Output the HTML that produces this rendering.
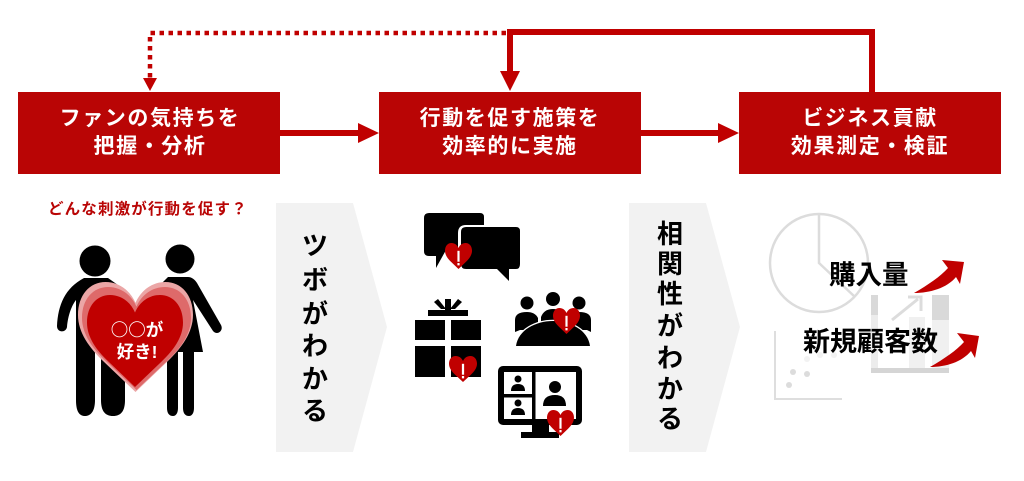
<!DOCTYPE html>
<html lang="ja"><head><meta charset="utf-8"><style>
html,body{margin:0;padding:0;background:#fff}
svg{display:block}
text{font-family:"Liberation Sans","Noto Sans CJK JP",sans-serif;font-weight:700}
.j{font-family:"Noto Sans CJK JP",sans-serif}
</style></head><body>
<svg width="1024" height="481" viewBox="0 0 1024 481" xmlns="http://www.w3.org/2000/svg">
<defs>
<path id="h" d="M50 19C45 7 35 0 24 0C10 0 0 12 0 30C0 46 10 60 22 72L50 100L78 72C90 60 100 46 100 30C100 12 90 0 76 0C65 0 55 7 50 19Z"/>
<g id="sh"><use href="#h" fill="#c00000"/><rect x="46" y="30" width="8" height="42" fill="#fff"/><rect x="46" y="77" width="8" height="9" fill="#fff"/></g>
</defs>
<rect width="1024" height="481" fill="#fff"/>
<!-- boxes -->
<g fill="#b90505"><rect x="18" y="92" width="262" height="82"/><rect x="379" y="92" width="262" height="82"/><rect x="739" y="92" width="262" height="82"/></g>
<g fill="#fff" font-size="21" text-anchor="middle" letter-spacing="1.6">
<text x="150" y="125">ファンの気持ちを</text><text x="150" y="153">把握・分析</text>
<text x="510" y="125">行動を促す施策を</text><text x="510" y="153">効率的に実施</text>
<text x="870" y="125">ビジネス貢献</text><text x="870" y="153">効果測定・検証</text>
</g>
<!-- connectors -->
<g fill="none" stroke="#c00000">
<path d="M280 133H360M641 133H720" stroke-width="6"/>
<path d="M872 92V32H510V72" stroke-width="6"/>
<path d="M506 33H150V78" stroke-width="4.5" stroke-dasharray="4.5 4.5"/>
</g>
<g fill="#c00000">
<path d="M358 123L379 133L358 143ZM718 123L739 133L718 143Z"/>
<path d="M500 71H520L510 91Z"/>
<path d="M143 78H157L150 91Z"/>
</g>
<!-- chevrons -->
<g fill="#f2f2f2"><path d="M276 203H353L387 327L353 452H276Z"/><path d="M629 203H706L740 327L706 452H629Z"/></g>
<g font-size="26" text-anchor="middle" fill="#000">
<text x="315" y="255">ツ</text><text x="315" y="289">ボ</text><text x="315" y="323">が</text><text x="315" y="355">わ</text><text x="315" y="388">か</text><text x="315" y="420">る</text>
<text x="670" y="243">相</text><text x="670" y="273">関</text><text x="670" y="303">性</text><text x="670" y="335">が</text><text x="670" y="367">わ</text><text x="670" y="398">か</text><text x="670" y="428">る</text>
</g>
<text x="48" y="214" font-size="15.5" fill="#b90505" letter-spacing="1.15">どんな刺激が行動を促す？</text>
<!-- people -->
<g fill="#000">
<circle cx="95" cy="261" r="15.5"/><circle cx="180" cy="259" r="14.5"/>
<path d="M84 278H108L125 290V400C125 411 121 416 113 416C105 416 101 411 101 400V340H95V400C95 411 91 416 85 416C79 416 76 411 76 400V300C72 305 68 315 67 327C66 333 57 333 57 326C58 305 65 288 84 278Z"/>
<path d="M168 277H188C192 277 195 280 197 283L221 325C224 331 217 336 213 331L193 300L203 352H194V408C194 413 192 416 189 416C185 416 183 413 183 408V352H178V408C178 413 176 416 173 416C169 416 167 413 167 408V352H160V285Z"/>
</g>
<!-- big heart -->
<use href="#h" transform="translate(78 282) scale(1.15 1.1)" fill="#eba6a6"/>
<use href="#h" transform="translate(82 287) scale(1.09 1.03)" fill="#de6a6a"/>
<use href="#h" transform="translate(87 295) scale(.96 .92)" fill="#c00000"/>
<g fill="#fff" font-size="17.5" text-anchor="middle"><text class="j" x="137" y="336">○○が</text><text x="137" y="358">好き!</text></g>
<!-- bubbles -->
<path d="M429 213H480Q484 213 484 217V250H446L436 268V256H429Q424 256 424 251V218Q424 213 429 213Z" fill="#000"/>
<path d="M466 225H516Q522 225 522 231V264Q522 271 516 271H497L509 281V268H466Q458 268 458 262V233Q458 225 466 225Z" fill="#fff"/>
<path d="M466 227H516Q520 227 520 231V264Q520 269 516 269H509V281L497 269H466Q461 269 461 264V232Q461 227 466 227Z" fill="#000"/>
<use href="#sh" transform="translate(445 243) scale(.27 .26)"/>
<!-- gift -->
<g fill="#000"><rect x="428" y="310" width="40" height="6"/><rect x="445" y="299" width="6" height="11"/><path d="M434 302L438 299L446 309H441ZM462 302L458 299L450 309H455Z"/>
<rect x="415" y="320" width="30" height="20"/><rect x="451" y="320" width="30" height="20"/><rect x="415" y="346" width="30" height="31"/><rect x="451" y="346" width="30" height="31"/></g>
<use href="#sh" transform="translate(449 356) scale(.28 .26)"/>
<!-- meeting -->
<g fill="#000"><circle cx="527" cy="303" r="6.5"/><circle cx="553" cy="299" r="7"/><circle cx="579" cy="303" r="6.5"/>
<path d="M515 332V320Q515 312 527 312Q535 312 538 318V330H520Z"/>
<path d="M541 317Q544 309 553 309Q562 309 566 317V325H541Z"/>
<path d="M591 332V320Q591 312 579 312Q572 312 569 318V330H587Z"/>
<path d="M516 346C518 330 536 321 553 321C570 321 588 330 590 346Z" stroke="#fff" stroke-width="2.5" paint-order="stroke"/></g>
<use href="#sh" transform="translate(553 308) scale(.27 .26)"/>
<!-- monitor -->
<rect x="501" y="369" width="78" height="53" rx="2" fill="#fff" stroke="#000" stroke-width="6"/>
<g fill="#000"><rect x="532" y="370" width="3.5" height="50"/><rect x="504" y="394" width="29" height="3.5"/>
<rect x="532" y="425" width="17" height="8"/><rect x="521" y="432" width="38" height="6"/>
<circle cx="518" cy="379" r="3.5"/><path d="M511 391Q511 384 518 384Q525 384 525 391Z"/>
<circle cx="518" cy="403" r="3.5"/><path d="M511 415Q511 408 518 408Q525 408 525 415Z"/>
<circle cx="555" cy="387" r="6"/><path d="M543 406Q543 395 555 395Q566 395 566 406Z"/></g>
<use href="#sh" transform="translate(547 410) scale(.27 .26)"/>
<!-- right gray -->
<g fill="none" stroke="#dcdcdc" stroke-width="2.5"><circle cx="819" cy="263" r="49"/><path d="M819 214V263L855 297"/></g>
<path d="M775 331V399H842" fill="none" stroke="#dedede" stroke-width="2"/>
<g fill="#dcdcdc"><circle cx="789" cy="385" r="3"/><circle cx="793" cy="372" r="3"/><circle cx="807" cy="374" r="3"/></g>
<g fill="#f2f2f2"><circle cx="807" cy="359" r="3"/><circle cx="820" cy="355" r="3"/><circle cx="834" cy="355" r="3"/></g>
<rect x="871" y="295" width="7" height="73" fill="#ececec"/>
<rect x="871" y="295" width="7" height="20" fill="#d9d9d9"/>
<rect x="932" y="295" width="17" height="25" fill="#d9d9d9"/>
<rect x="932" y="320" width="17" height="48" fill="#f0f0f0"/>
<rect x="909" y="317" width="16" height="51" fill="#f0f0f0"/>
<rect x="871" y="368" width="78" height="5" fill="#d5d5d5"/>
<path d="M892 320L918 299M908 297H921V311" fill="none" stroke="#dcdcdc" stroke-width="3"/>
<g font-size="26.5" fill="#000"><text x="829" y="284">購入量</text><text x="803" y="351" font-size="27">新規顧客数</text></g>
<g fill="#c00000">
<path d="M914 293C928 285 941 276 948 268L942 260L964 262L960 284L956 277C947 288 930 293 914 293Z"/>
<path d="M930 367C944 359 957 350 964 342L957 333L979 336L975 358L971 351C962 362 946 367 930 367Z"/>
</g>
</svg>
</body></html>
